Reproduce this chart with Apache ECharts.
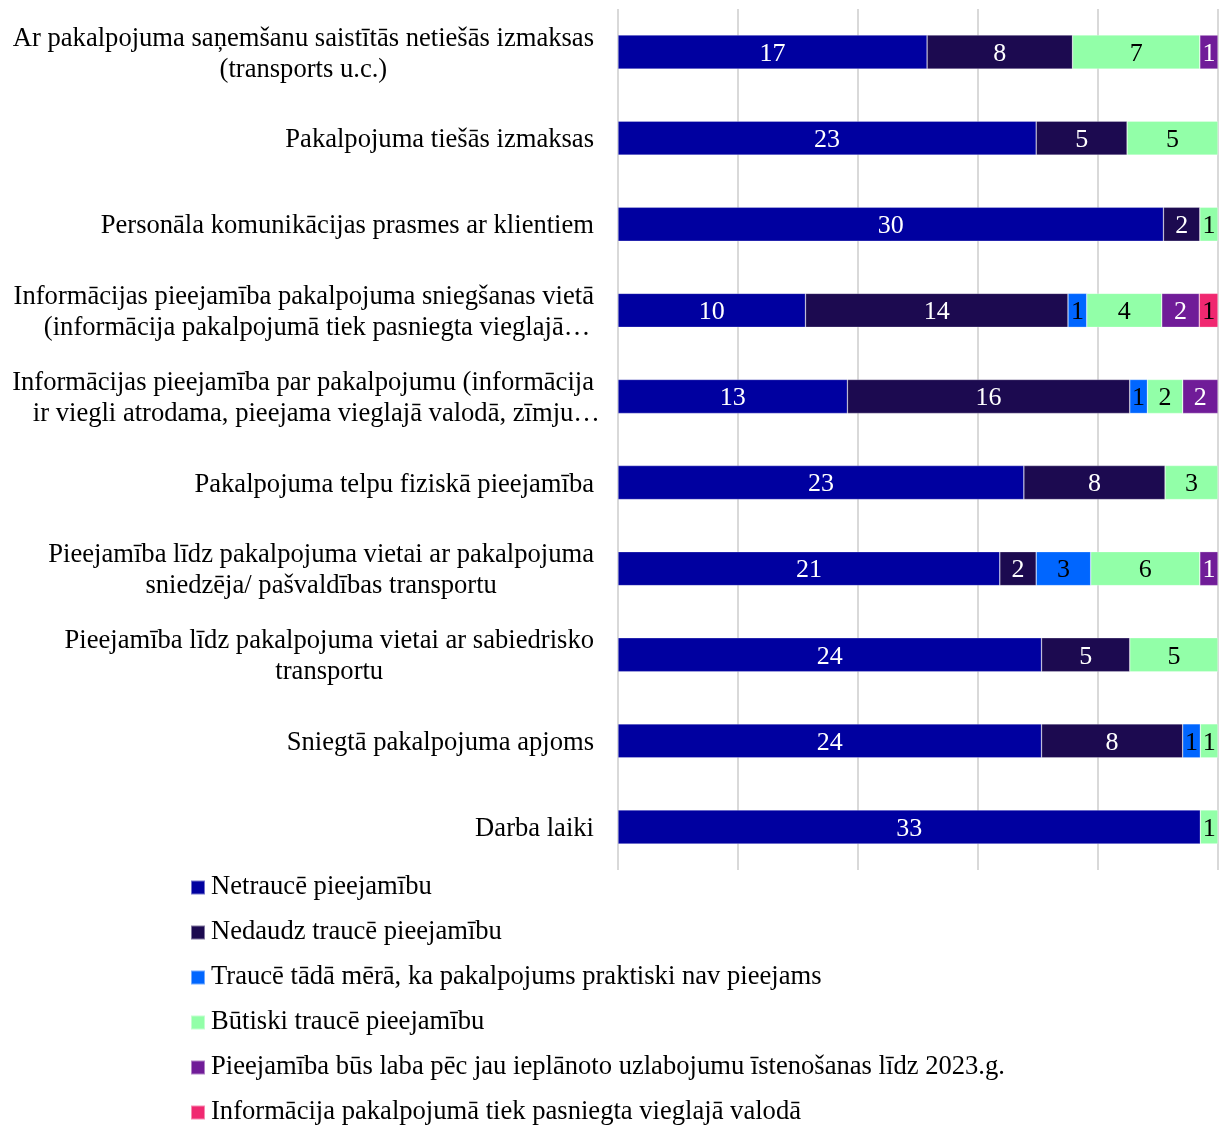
<!DOCTYPE html>
<html>
<head>
<meta charset="utf-8">
<script src="https://cdn.jsdelivr.net/npm/echarts@6/dist/echarts.min.js"></script>
<style>
  html, body { margin: 0; padding: 0; background: #ffffff; }
  #chart { width: 1226px; height: 1127px; }
</style>
</head>
<body>
<div id="chart"></div>
<script>
// Categories (top to bottom)
const categories = [
  'Ar pakalpojuma saņemšanu saistītās netiešās izmaksas\n(transports u.c.)',
  'Pakalpojuma tiešās izmaksas',
  'Personāla komunikācijas prasmes ar klientiem',
  'Informācijas pieejamība pakalpojuma sniegšanas vietā\n(informācija pakalpojumā tiek pasniegta vieglajā…',
  'Informācijas pieejamība par pakalpojumu (informācija\nir viegli atrodama, pieejama vieglajā valodā, zīmju…',
  'Pakalpojuma telpu fiziskā pieejamība',
  'Pieejamība līdz pakalpojuma vietai ar pakalpojuma\nsniedzēja/ pašvaldības transportu',
  'Pieejamība līdz pakalpojuma vietai ar sabiedrisko\ntransportu',
  'Sniegtā pakalpojuma apjoms',
  'Darba laiki'
];

// Series names
const seriesNames = [
  'Netraucē pieejamību',
  'Nedaudz traucē pieejamību',
  'Traucē tādā mērā, ka pakalpojums praktiski nav pieejams',
  'Būtiski traucē pieejamību',
  'Pieejamība būs laba pēc jau ieplānoto uzlabojumu īstenošanas līdz 2023.g.',
  'Informācija pakalpojumā tiek pasniegta vieglajā valodā'
];

// Counts per category
const netrauce   = [17, 23, 30, 10, 13, 23, 21, 24, 24, 33];
const nedaudz    = [ 8,  5,  2, 14, 16,  8,  2,  5,  8,  0];
const praktiski  = [ 0,  0,  0,  1,  1,  0,  3,  0,  1,  0];
const butiski    = [ 7,  5,  1,  4,  2,  3,  6,  5,  1,  1];
const ieplanots  = [ 1,  0,  0,  2,  2,  0,  1,  0,  0,  0];
const vieglaja   = [ 0,  0,  0,  1,  0,  0,  0,  0,  0,  0];

// X axis ticks (percent of answers)
const xTicks = [0, 20, 40, 60, 80, 100];

const seriesValues = [netrauce, nedaudz, praktiski, butiski, ieplanots, vieglaja];
const colors = ['#0000A0', '#1C0A50', '#0066FF', '#92FFA8', '#701C98', '#F02870'];
const labelColors = ['#ffffff', '#ffffff', '#000000', '#000000', '#ffffff', '#000000'];

const FONT = '"Liberation Serif", "Times New Roman", serif';
const TEXT_SIZE = 26.6;

// Row totals for the 100% stack
const totals = categories.map((_, i) => seriesValues.reduce((s, arr) => s + arr[i], 0));

const series = seriesValues.map((arr, k) => ({
  name: seriesNames[k],
  type: 'bar',
  stack: 'total',
  barWidth: 34,
  itemStyle: { color: colors[k], borderColor: 'rgba(255,255,255,0.45)', borderWidth: 0.6 },
  label: {
    show: true,
    position: 'inside',
    offset: [0, 2],
    color: labelColors[k],
    fontFamily: FONT,
    fontSize: 26,
    formatter: p => String(arr[p.dataIndex])
  },
  emphasis: { disabled: true },
  data: arr.map((v, i) => (v > 0 ? (v / totals[i]) * 100 : '-'))
}));

// Category label: lines centred; a trailing ellipsis hangs past the centred text.
// The zero-width "e" token is drawn centred on the end of the line, so it is led
// by four no-break spaces (one em, the width of the ellipsis glyph).
function categoryLabel(v) {
  return v.split('\n').map(line => {
    if (line.endsWith('…')) {
      return '{c|' + line.slice(0, -1) + '}{e|\u00a0\u00a0\u00a0\u00a0…}';
    }
    return '{c|' + line + '}';
  }).join('\n');
}

const richText = { color: '#000000', fontFamily: FONT, fontSize: TEXT_SIZE, lineHeight: 31 };

const chart = echarts.init(document.getElementById('chart'), null, { renderer: 'canvas' });
chart.setOption({
  backgroundColor: '#ffffff',
  animation: false,
  color: colors,
  textStyle: { fontFamily: FONT },
  grid: { left: 618, right: 8, top: 9, bottom: 257, containLabel: false },
  legend: {
    orient: 'vertical',
    left: 190,
    top: 874,
    padding: 0,
    itemWidth: 14,
    itemHeight: 14,
    itemGap: 18,
    icon: 'rect',
    selectedMode: false,
    textStyle: { fontFamily: FONT, fontSize: TEXT_SIZE, color: '#000000', lineHeight: 26, padding: [0, 0, 0, 1] },
    data: seriesNames
  },
  xAxis: {
    type: 'value',
    min: xTicks[0],
    max: xTicks[xTicks.length - 1],
    interval: xTicks[1] - xTicks[0],
    axisLabel: { show: false },
    axisLine: { show: false },
    axisTick: { show: false },
    splitLine: { show: true, lineStyle: { color: '#d9d9d9', width: 2 } }
  },
  yAxis: {
    type: 'category',
    inverse: true,
    data: categories,
    axisLine: { show: false },
    axisTick: { show: false },
    axisLabel: {
      margin: 24,
      align: 'right',
      padding: [4, 0, 0, 0],
      formatter: categoryLabel,
      rich: {
        c: Object.assign({ align: 'center' }, richText),
        e: Object.assign({ align: 'center', width: 0 }, richText)
      }
    }
  },
  series: series
});
</script>
</body>
</html>
